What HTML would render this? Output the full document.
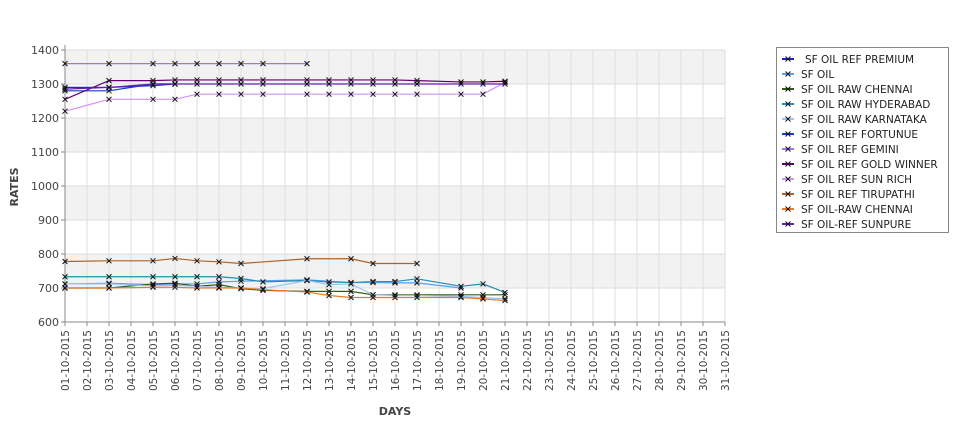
<!DOCTYPE html>
<html><head><meta charset="utf-8"><style>
body{margin:0;background:#fff;font-family:"Liberation Sans","DejaVu Sans",sans-serif;}
svg text{font-family:"DejaVu Sans","Liberation Sans",sans-serif;}
</style></head><body>
<svg id="chart" width="975" height="429" xmlns="http://www.w3.org/2000/svg">
<g id="grid"></g>
<g id="axes"></g>
<g id="series"></g>
<text x="18" y="187" font-size="11" font-weight="bold" fill="#444" transform="rotate(-90 18 187)" text-anchor="middle">RATES</text>
<text x="395" y="415" font-size="11" font-weight="bold" fill="#444" text-anchor="middle">DAYS</text>
<g id="legend"></g>
</svg>
<script>
const yTicks=[600,700,800,900,1000,1100,1200,1300,1400];
const xLabels=[];for(let d=1;d<=31;d++)xLabels.push((d<10?'0':'')+d+'-10-2015');
const names=["SF OIL REF PREMIUM","SF OIL","SF OIL RAW CHENNAI","SF OIL RAW HYDERABAD","SF OIL RAW KARNATAKA","SF OIL REF FORTUNUE","SF OIL REF GEMINI","SF OIL REF GOLD WINNER","SF OIL REF SUN RICH","SF OIL REF TIRUPATHI","SF OIL-RAW CHENNAI","SF OIL-REF SUNPURE"];
const colors=["#2020d0","#5aa0f0","#2e5e10","#2090b0","#a0c0f0","#1040c0","#a070f0","#600070","#d090f0","#b06020","#f07820","#6020b0"];
const days=[
[1,3,5,6],
[1,3,5,6,7,8,9,12,14,15,16,17,19],
[1,3,5,6,7,8,9,10,12,13,14,15,16,17,19,20,21],
[1,3,5,6,7,8,9,10,12,13,14,15,16,17,19,20,21],
[1,3,5,6,7,8,9,10,12,13,14,15,16,17,19,20,21],
[1,3,5,6],
[1,3,5,6,7,8,9,10,12],
[1,3,5,6,7,8,9,10,12,13,14,15,16,17,19,20,21],
[1,3,5,6,7,8,9,10,12,13,14,15,16,17,19,20,21],
[1,3,5,6,7,8,9,12,14,15,17],
[1,3,5,6,7,8,9,10,12,13,14,15,16,17,19,20,21],
[1,3,5,6,7,8,9,10,12,13,14,15,16,17,19,20,21]];
const values=[
[1290,1290,1295,1300],
[712,714,710,712,712,718,720,724,716,716,715,715,700],
[700,700,712,714,705,710,698,693,690,690,690,680,680,680,680,680,680],
[733,733,733,733,733,733,728,718,722,718,716,719,719,727,705,712,687],
[712,712,706,708,705,702,700,698,722,710,712,680,678,678,675,672,668],
[1280,1280,1300,1300],
[1360,1360,1360,1360,1360,1360,1360,1360,1360],
[1255,1310,1310,1312,1312,1312,1312,1312,1312,1312,1312,1312,1312,1310,1306,1306,1308],
[1220,1255,1255,1255,1270,1270,1270,1270,1270,1270,1270,1270,1270,1270,1270,1270,1305],
[778,780,780,787,780,777,772,786,786,772,772],
[700,700,702,702,700,700,700,695,688,678,672,672,672,672,672,668,663],
[1285,1290,1300,1300,1300,1300,1300,1300,1300,1300,1300,1300,1300,1300,1300,1300,1300]];
const NS='http://www.w3.org/2000/svg';
const X0=65,X1=725,Y0=322,Y1=50;
const xs=d=>X0+(d-1)*(X1-X0)/30;
const ys=v=>Y0-(v-600)*(Y0-Y1)/800;
function mk(t,a,p){const e=document.createElementNS(NS,t);for(const k in a)e.setAttribute(k,a[k]);p.appendChild(e);return e;}
const grid=document.getElementById('grid'),axes=document.getElementById('axes'),ser=document.getElementById('series'),leg=document.getElementById('legend');
for(let i=0;i<yTicks.length-1;i++){if(i%2==1){const r=mk('rect',{x:X0,y:ys(yTicks[i+1]),width:X1-X0,height:ys(yTicks[i])-ys(yTicks[i+1]),fill:'#f2f2f2'},grid);}}
yTicks.forEach(v=>{const l=mk('line',{x1:X0,x2:X1,y1:ys(v),y2:ys(v),stroke:'#ddd'},grid);
const t=mk('text',{x:X0-6,y:ys(v)+4,'font-size':11,fill:'#444','text-anchor':'end'},axes);t.textContent=v;
mk('line',{x1:X0-4,x2:X0,y1:ys(v),y2:ys(v),stroke:'#888'},axes);});
xLabels.forEach((s,i)=>{const x=xs(i+1);const l=mk('line',{x1:x,x2:x,y1:Y1,y2:Y0,stroke:'#ddd'},grid);
mk('line',{x1:x,x2:x,y1:Y0,y2:Y0+4,stroke:'#888'},axes);
const t=mk('text',{x:x+4,y:Y0+8,'font-size':10.5,fill:'#444','text-anchor':'end',transform:`rotate(-90 ${x+4} ${Y0+8})`},axes);t.textContent=s;});
mk('line',{x1:X0,x2:X0,y1:Y1-5,y2:Y0,stroke:'#888'},axes);
mk('line',{x1:X0,x2:X1,y1:Y0,y2:Y0,stroke:'#888'},axes);
function cross(x,y,p){mk('path',{d:`M${x-2.5} ${y-2.5}L${x+2.5} ${y+2.5}M${x-2.5} ${y+2.5}L${x+2.5} ${y-2.5}`,stroke:'#111','stroke-width':1},p);}
names.forEach((n,i)=>{const g=mk('g',{},ser);
const pts=days[i].map((d,j)=>xs(d)+','+ys(values[i][j])).join(' ');
mk('polyline',{points:pts,fill:'none',stroke:colors[i],'stroke-width':1.2},g);
days[i].forEach((d,j)=>cross(xs(d),ys(values[i][j]),g));});
mk('rect',{x:776.5,y:47.5,width:172,height:185,fill:'#fff',stroke:'#888'},leg);
names.forEach((n,i)=>{const y=59+i*15;const g=mk('g',{},leg);
mk('line',{x1:782,x2:794,y1:y,y2:y,stroke:colors[i],'stroke-width':2},g);cross(788,y,g);
const t=mk('text',{x:i==0?805:801,y:y+4,'font-size':10.5,fill:'#222'},g);t.textContent=n;});
</script>
</body></html>
